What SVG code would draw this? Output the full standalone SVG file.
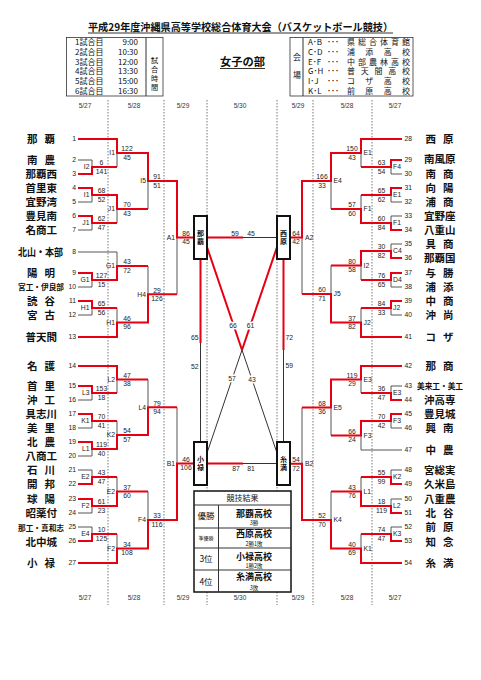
<svg xmlns="http://www.w3.org/2000/svg" width="481" height="680" viewBox="0 0 481 680">
<style>
.r{stroke:#e60012;stroke-width:2;fill:none}
.g{stroke:#555;stroke-width:1;fill:none}
.k{stroke:#333;stroke-width:1;fill:none}
.d{stroke:#555;stroke-width:0.8;stroke-dasharray:1.5,1.5;fill:none}
.sc{font-family:"Liberation Sans",Arial,sans-serif;font-size:6.8px;text-anchor:middle;fill:#222}
.lL{font-family:"Liberation Sans",Arial,sans-serif;font-size:6.8px;text-anchor:end;fill:#222}
.lR{font-family:"Liberation Sans",Arial,sans-serif;font-size:6.8px;text-anchor:start;fill:#222}
.num{font-family:"Liberation Sans",Arial,sans-serif;font-size:6.8px;fill:#222}
.nm{font-family:"Noto Sans CJK JP",sans-serif;font-size:10.5px;font-weight:bold;fill:#111}
.nm2{font-family:"Noto Sans CJK JP",sans-serif;font-size:10.5px;font-weight:bold;fill:#111;letter-spacing:7px}
.nms{font-family:"Noto Sans CJK JP",sans-serif;font-size:7.5px;font-weight:bold;fill:#111}
.jp{font-family:"Noto Sans CJK JP",sans-serif;fill:#111}
.dt{font-family:"Liberation Sans",Arial,sans-serif;font-size:6.5px;text-anchor:middle;fill:#333}
.bx{fill:#fff;stroke:#111;stroke-width:2}
.bt{font-family:"Noto Sans CJK JP",sans-serif;font-size:7px;font-weight:bold;text-anchor:middle;fill:#111}
.cs{font-family:"Liberation Sans",Arial,sans-serif;font-size:6.8px;text-anchor:middle;fill:#222;stroke:#fff;stroke-width:3px;paint-order:stroke}
</style>

<g id="header">
<text class="jp" x="88" y="30.5" font-size="10.5" font-weight="bold" textLength="305" lengthAdjust="spacingAndGlyphs">平成29年度沖縄県高等学校総合体育大会（バスケットボール競技）</text>
<path class="k" d="M88 33H393"/>
<text class="jp" x="220" y="66" font-size="11" font-weight="bold" textLength="45" lengthAdjust="spacingAndGlyphs">女子の部</text>
<path class="k" d="M220 68.5H265"/>
</g>

<g id="schedule">
<rect x="66.5" y="37.5" width="96.5" height="58.5" fill="none" stroke="#333" stroke-width="0.8"/>
<path class="k" d="M146 37.5V96" stroke-width="0.8"/>
<g class="jp" font-size="8">
<text x="75" y="45.3">1試合目</text><text x="138" y="45.3" text-anchor="end">9:00</text>
<text x="75" y="55">2試合目</text><text x="138" y="55" text-anchor="end">10:30</text>
<text x="75" y="64.7">3試合目</text><text x="138" y="64.7" text-anchor="end">12:00</text>
<text x="75" y="74.4">4試合目</text><text x="138" y="74.4" text-anchor="end">13:30</text>
<text x="75" y="84.1">5試合目</text><text x="138" y="84.1" text-anchor="end">15:00</text>
<text x="75" y="93.8">6試合目</text><text x="138" y="93.8" text-anchor="end">16:30</text>
</g>
<g class="jp" font-size="7.2" text-anchor="middle">
<text x="154.5" y="63">試</text>
<text x="154.5" y="72">合</text>
<text x="154.5" y="81">時</text>
<text x="154.5" y="90">間</text>
</g>
</g>

<g id="venues">
<rect x="290" y="37.5" width="123" height="58.5" fill="none" stroke="#333" stroke-width="0.8"/>
<path class="k" d="M303 37.5V96" stroke-width="0.8"/>
<g class="jp" font-size="8">
<text x="297" y="60" text-anchor="middle">会</text>
<text x="297" y="78" text-anchor="middle">場</text>
<text x="308" y="45.3">A･B</text><text x="327" y="45.3">･･･</text><text x="347" y="45.3" textLength="63" lengthAdjust="spacing">県総合体育館</text>
<text x="308" y="55">C･D</text><text x="327" y="55">･･･</text><text x="347" y="55" textLength="63" lengthAdjust="spacing">浦添高校</text>
<text x="308" y="64.7">E･F</text><text x="327" y="64.7">･･･</text><text x="347" y="64.7" textLength="63" lengthAdjust="spacing">中部農林高校</text>
<text x="308" y="74.4">G･H</text><text x="327" y="74.4">･･･</text><text x="347" y="74.4" textLength="63" lengthAdjust="spacing">普天間高校</text>
<text x="308" y="84.1">I･J</text><text x="327" y="84.1">･･･</text><text x="347" y="84.1" textLength="63" lengthAdjust="spacing">コザ高校</text>
<text x="308" y="93.8">K･L</text><text x="327" y="93.8">･･･</text><text x="347" y="93.8" textLength="63" lengthAdjust="spacing">前原高校</text>
</g>
</g>

<g id="dates">
<path class="d" d="M108 100V605M164 100V605M207 100V605M277 100V605M313 100V605M372 100V605"/>
<text class="dt" x="85" y="107.5">5/27</text><text class="dt" x="134" y="107.5">5/28</text><text class="dt" x="183" y="107.5">5/29</text><text class="dt" x="240" y="107.5">5/30</text><text class="dt" x="298" y="107.5">5/29</text><text class="dt" x="347" y="107.5">5/28</text><text class="dt" x="395" y="107.5">5/27</text>
<text class="dt" x="85" y="599.5">5/27</text><text class="dt" x="134" y="599.5">5/28</text><text class="dt" x="183" y="599.5">5/29</text><text class="dt" x="240" y="599.5">5/30</text><text class="dt" x="298" y="599.5">5/29</text><text class="dt" x="347" y="599.5">5/28</text><text class="dt" x="395" y="599.5">5/27</text>
</g>

<g id="connectors">
<path class="g" d="M78 139H117M78 160H92M78 174H92M78 188H92M78 202H92M78 216H92M78 230H92M78 252H117M78 273H92M78 287H92M78 301H92M78 315H92M78 337H117M78 366H117M78 386H92M78 400H92M78 414H92M78 428H92M78 442H92M78 456H92M78 470H92M78 484H92M78 499H92M78 513H92M78 527H92M78 541H92M78 563H117
M92 160V174M92 188V202M92 216V230M92 273V287M92 301V315M92 386V400M92 414V428M92 442V456M92 470V484M92 499V513M92 527V541
M117 139V167M117 195V223M117 252V280M117 308V337M117 366V393M117 421V449M117 477V506M117 534V563
M148 153V209M148 266V322.5M148 379.5V435M148 491.5V548.5
M177 181V294.25M177 407.25V520"/>
<path class="g" d="M402 139H361M402 160H391M402 174H391M402 188H391M402 202H391M402 216H391M402 230H391M402 244H391M402 258H391M402 273H391M402 287H391M402 301H391M402 315H391M402 337H361M402 366H361M402 386H391M402 400H391M402 414H391M402 428H391M402 450H361M402 470H391M402 484H391M402 499H391M402 513H391M402 527H391M402 541H391M402 563H361
M391 160V174M391 188V202M391 216V230M391 244V258M391 273V287M391 301V315M391 386V400M391 414V428M391 470V484M391 499V513M391 527V541
M361 139V167M361 195V223M361 251V280M361 308V337M361 366V393M361 421V450M361 477V506M361 534V563
M331 153V209M331 265.5V322.5M331 379.5V435.5M331 491.5V548.5
M302 181V294M302 407.5V520"/>
<path class="r" d="M78 139H117V153H148V181H177V237.5H194
M78 174H92V167H117
M78 188H92V195H117V209H148
M78 216H92V223H117
M78 273H92V280H117V266H148
M78 301H92V308H117
M78 337H117V322.5H148V294.25H177
M78 366H117V379.5H148
M78 386H92V393H117
M78 414H92V421H117
M78 442H92V449H117V435H148V407.25H177
M78 484H92V477H117
M78 499H92V506H117V491.5H148
M78 541H92V534H117
M78 563H117V548.5H148V520H177V463.5H194"/>
<path class="r" d="M402 139H361V153H331V181H302V237.5H290
M402 160H391V167H361
M402 188H391V195H361
M402 230H391V223H361V209H331
M402 258H391V251H361V265.5H331
M402 273H391V280H361
M402 301H391V308H361
M402 337H361V322.5H331V294H302
M402 366H361V379.5H331V407.5H302
M402 400H391V393H361
M402 414H391V421H361V435.5H331
M402 484H391V477H361
M402 513H391V506H361V491.5H331
M402 541H391V534H361
M402 563H361V548.5H331V520H302V463.75H290"/>
<path class="k" d="M243 237.5H277M243 463.5H277M200.5 343V442M283.5 350V442M242 350L277 453M242 350L207 453"/>
<path class="r" d="M207 237.5H243M207 463.5H243M200.5 259V343M283.5 259V350M207 247L242 350M277 247L242 350"/>
</g>

<g id="scores">
<text class="sc" x="101.5" y="165.4">6</text><text class="sc" x="101.5" y="173.8">141</text><text class="lL" x="89.5" y="169.4">I2</text>
<text class="sc" x="101.5" y="193.4">68</text><text class="sc" x="101.5" y="201.8">52</text><text class="lL" x="89.5" y="197.4">I1</text>
<text class="sc" x="101.5" y="221.4">62</text><text class="sc" x="101.5" y="229.8">47</text><text class="lL" x="89.5" y="225.4">J1</text>
<text class="sc" x="101.5" y="278.4">127</text><text class="sc" x="101.5" y="286.8">15</text><text class="lL" x="89.5" y="282.4">G1</text>
<text class="sc" x="101.5" y="306.4">65</text><text class="sc" x="101.5" y="314.8">56</text><text class="lL" x="89.5" y="310.4">H1</text>
<text class="sc" x="101.5" y="391.4">153</text><text class="sc" x="101.5" y="399.8">18</text><text class="lL" x="89.5" y="395.4">L3</text>
<text class="sc" x="101.5" y="419.4">70</text><text class="sc" x="101.5" y="427.8">41</text><text class="lL" x="89.5" y="423.4">K1</text>
<text class="sc" x="101.5" y="447.4">119</text><text class="sc" x="101.5" y="455.8">40</text><text class="lL" x="89.5" y="451.4">L1</text>
<text class="sc" x="101.5" y="475.4">43</text><text class="sc" x="101.5" y="483.8">47</text><text class="lL" x="89.5" y="479.4">E2</text>
<text class="sc" x="101.5" y="504.4">61</text><text class="sc" x="101.5" y="512.8">23</text><text class="lL" x="89.5" y="508.4">F2</text>
<text class="sc" x="101.5" y="532.4">10</text><text class="sc" x="101.5" y="540.8">125</text><text class="lL" x="89.5" y="536.4">E4</text>

<text class="sc" x="127" y="151.4">122</text><text class="sc" x="127" y="159.8">45</text><text class="lL" x="115" y="155.4">I1</text>
<text class="sc" x="127" y="207.4">70</text><text class="sc" x="127" y="215.8">43</text><text class="lL" x="115" y="211.4">J1</text>
<text class="sc" x="127" y="264.4">43</text><text class="sc" x="127" y="272.8">72</text><text class="lL" x="115" y="268.4">G1</text>
<text class="sc" x="127" y="320.9">46</text><text class="sc" x="127" y="329.3">96</text><text class="lL" x="115" y="324.9">H1</text>
<text class="sc" x="127" y="377.9">47</text><text class="sc" x="127" y="386.3">38</text><text class="lL" x="115" y="381.9">L2</text>
<text class="sc" x="127" y="433.4">54</text><text class="sc" x="127" y="441.8">57</text><text class="lL" x="115" y="437.4">K2</text>
<text class="sc" x="127" y="489.9">37</text><text class="sc" x="127" y="498.3">60</text><text class="lL" x="115" y="493.9">E2</text>
<text class="sc" x="127" y="546.9">34</text><text class="sc" x="127" y="555.3">108</text><text class="lL" x="115" y="550.9">F2</text>

<text class="sc" x="157" y="179.4">91</text><text class="sc" x="157" y="187.8">51</text><text class="lL" x="146" y="183.4">I5</text>
<text class="sc" x="157" y="292.6">29</text><text class="sc" x="157" y="301">126</text><text class="lL" x="146" y="296.6">H4</text>
<text class="sc" x="157" y="405.6">79</text><text class="sc" x="157" y="414">94</text><text class="lL" x="146" y="409.6">L4</text>
<text class="sc" x="157" y="518.4">33</text><text class="sc" x="157" y="526.8">116</text><text class="lL" x="146" y="522.4">F4</text>

<text class="sc" x="186" y="235.9">86</text><text class="sc" x="186" y="244.3">45</text><text class="lL" x="175" y="239.9">A1</text>
<text class="sc" x="186" y="461.9">46</text><text class="sc" x="186" y="470.3">106</text><text class="lL" x="175" y="465.9">B1</text>

<text class="sc" x="381.5" y="165.4">63</text><text class="sc" x="381.5" y="173.8">54</text><text class="lR" x="393" y="169.4">F4</text>
<text class="sc" x="381.5" y="193.4">65</text><text class="sc" x="381.5" y="201.8">62</text><text class="lR" x="393" y="197.4">E1</text>
<text class="sc" x="381.5" y="221.4">60</text><text class="sc" x="381.5" y="229.8">84</text><text class="lR" x="393" y="225.4">F1</text>
<text class="sc" x="381.5" y="249.4">30</text><text class="sc" x="381.5" y="257.8">82</text><text class="lR" x="393" y="253.4">C4</text>
<text class="sc" x="381.5" y="278.4">76</text><text class="sc" x="381.5" y="286.8">65</text><text class="lR" x="393" y="282.4">D4</text>
<text class="sc" x="381.5" y="306.4">84</text><text class="sc" x="381.5" y="314.8">33</text><text class="lR" x="393" y="310.4">J2</text>
<text class="sc" x="381.5" y="391.4">36</text><text class="sc" x="381.5" y="399.8">47</text><text class="lR" x="393" y="395.4">E3</text>
<text class="sc" x="381.5" y="419.4">70</text><text class="sc" x="381.5" y="427.8">42</text><text class="lR" x="393" y="423.4">F3</text>
<text class="sc" x="381.5" y="475.4">55</text><text class="sc" x="381.5" y="483.8">99</text><text class="lR" x="393" y="479.4">K2</text>
<text class="sc" x="381.5" y="504.4">18</text><text class="sc" x="381.5" y="512.8">119</text><text class="lR" x="393" y="508.4">L2</text>
<text class="sc" x="381.5" y="532.4">74</text><text class="sc" x="381.5" y="540.8">47</text><text class="lR" x="393" y="536.4">K3</text>

<text class="sc" x="352" y="151.4">150</text><text class="sc" x="352" y="159.8">43</text><text class="lR" x="363.5" y="155.4">E1</text>
<text class="sc" x="352" y="207.4">57</text><text class="sc" x="352" y="215.8">60</text><text class="lR" x="363.5" y="211.4">F1</text>
<text class="sc" x="352" y="263.9">80</text><text class="sc" x="352" y="272.3">58</text><text class="lR" x="363.5" y="267.9">I2</text>
<text class="sc" x="352" y="320.9">37</text><text class="sc" x="352" y="329.3">82</text><text class="lR" x="363.5" y="324.9">J2</text>
<text class="sc" x="352" y="377.9">119</text><text class="sc" x="352" y="386.3">29</text><text class="lR" x="363.5" y="381.9">E3</text>
<text class="sc" x="352" y="433.9">66</text><text class="sc" x="352" y="442.3">24</text><text class="lR" x="363.5" y="437.9">F3</text>
<text class="sc" x="352" y="489.9">43</text><text class="sc" x="352" y="498.3">76</text><text class="lR" x="363.5" y="493.9">L1</text>
<text class="sc" x="352" y="546.9">40</text><text class="sc" x="352" y="555.3">69</text><text class="lR" x="363.5" y="550.9">K1</text>

<text class="sc" x="322" y="179.4">166</text><text class="sc" x="322" y="187.8">33</text><text class="lR" x="333.5" y="183.4">E4</text>
<text class="sc" x="322" y="292.4">60</text><text class="sc" x="322" y="300.8">71</text><text class="lR" x="333.5" y="296.4">J5</text>
<text class="sc" x="322" y="405.9">68</text><text class="sc" x="322" y="414.3">36</text><text class="lR" x="333.5" y="409.9">E5</text>
<text class="sc" x="322" y="518.4">52</text><text class="sc" x="322" y="526.8">70</text><text class="lR" x="333.5" y="522.4">K4</text>

<text class="sc" x="296" y="235.9">64</text><text class="sc" x="296" y="244.3">42</text><text class="lR" x="305" y="239.9">A2</text>
<text class="sc" x="296" y="462.1">54</text><text class="sc" x="296" y="470.5">72</text><text class="lR" x="305" y="466.1">B2</text>

<text class="sc" x="235" y="235.5">59</text><text class="sc" x="251" y="235.5">45</text>
<text class="sc" x="236" y="470.5">87</text><text class="sc" x="251" y="470.5">81</text>
<text class="lL" x="198.5" y="339.5">65</text><text class="lL" x="198.5" y="368.5">52</text>
<text class="lR" x="285.5" y="339.5">72</text><text class="lR" x="285.5" y="367.5">59</text>
<text class="cs" x="233" y="328.4">66</text><text class="cs" x="250.5" y="328.4">61</text>
<text class="cs" x="232" y="381.4">57</text><text class="cs" x="252" y="382.4">43</text>
</g>

<g id="box-naha"><rect class="bx" x="194" y="216" width="13" height="43"/><text class="bt" x="200.5" y="235.7">那</text><text class="bt" x="200.5" y="244.2">覇</text></g>
<g id="box-nishihara"><rect class="bx" x="277" y="216" width="13" height="43"/><text class="bt" x="283.5" y="235.7">西</text><text class="bt" x="283.5" y="244.2">原</text></g>
<g id="box-oroku"><rect class="bx" x="194" y="442" width="13" height="43"/><text class="bt" x="200.5" y="461.7">小</text><text class="bt" x="200.5" y="470.2">禄</text></g>
<g id="box-itoman"><rect class="bx" x="277" y="442" width="13" height="43"/><text class="bt" x="283.5" y="461.7">糸</text><text class="bt" x="283.5" y="470.2">満</text></g>

<g id="results">
<rect x="194" y="491" width="97" height="101" fill="#fff" stroke="#111" stroke-width="1.5"/>
<path class="k" d="M194 505H291M194 528H291M194 548H291M194 570H291M218.5 505V592"/>
<g class="jp" text-anchor="middle">
<text x="242.5" y="501" font-size="8">競技結果</text>
<text x="206" y="519" font-size="8.5">優勝</text>
<text x="254" y="516.5" font-size="9" font-weight="bold">那覇高校</text>
<text x="254" y="525" font-size="5.5">3勝</text>
<text x="206" y="539.5" font-size="5">準優勝</text>
<text x="254" y="536.5" font-size="9" font-weight="bold">西原高校</text>
<text x="254" y="546" font-size="5.5">2勝1敗</text>
<text x="206" y="562" font-size="8.5">3位</text>
<text x="254" y="559.5" font-size="9" font-weight="bold">小禄高校</text>
<text x="254" y="568" font-size="5.5">1勝2敗</text>
<text x="206" y="585" font-size="8.5">4位</text>
<text x="254" y="580" font-size="9" font-weight="bold">糸満高校</text>
<text x="254" y="589.5" font-size="5.5">3敗</text>
</g>
</g>

<g id="teams-left">
<g id="t1"><text class="nm2" x="27" y="142.8">那覇</text><text class="num" x="76" y="141.4" text-anchor="end">1</text></g>
<g id="t2"><text class="nm2" x="27" y="163.8">南農</text><text class="num" x="76" y="162.4" text-anchor="end">2</text></g>
<g id="t3"><text class="nm" x="25.5" y="177.8">那覇西</text><text class="num" x="76" y="176.4" text-anchor="end">3</text></g>
<g id="t4"><text class="nm" x="25.5" y="191.8">首里東</text><text class="num" x="76" y="190.4" text-anchor="end">4</text></g>
<g id="t5"><text class="nm" x="25.5" y="205.8">宜野湾</text><text class="num" x="76" y="204.4" text-anchor="end">5</text></g>
<g id="t6"><text class="nm" x="25.5" y="219.8">豊見南</text><text class="num" x="76" y="218.4" text-anchor="end">6</text></g>
<g id="t7"><text class="nm" x="25.5" y="234.3">名商工</text><text class="num" x="76" y="232.4" text-anchor="end">7</text></g>
<g id="t8"><text class="nm" x="18" y="255.8" font-size="10" textLength="45" lengthAdjust="spacingAndGlyphs">北山・本部</text><text class="num" x="76" y="254.4" text-anchor="end">8</text></g>
<g id="t9"><text class="nm2" x="27" y="276.8">陽明</text><text class="num" x="76" y="275.4" text-anchor="end">9</text></g>
<g id="t10"><text class="nms" x="18" y="289.8" textLength="46" lengthAdjust="spacingAndGlyphs">宮工・伊良部</text><text class="num" x="76" y="289.4" text-anchor="end">10</text></g>
<g id="t11"><text class="nm2" x="27" y="305.3">読谷</text><text class="num" x="76" y="303.4" text-anchor="end">11</text></g>
<g id="t12"><text class="nm2" x="27" y="318.8">宮古</text><text class="num" x="76" y="317.4" text-anchor="end">12</text></g>
<g id="t13"><text class="nm" x="25.5" y="340.8">普天間</text><text class="num" x="76" y="339.4" text-anchor="end">13</text></g>
<g id="t14"><text class="nm2" x="27" y="369.8">名護</text><text class="num" x="76" y="368.4" text-anchor="end">14</text></g>
<g id="t15"><text class="nm2" x="27" y="389.8">首里</text><text class="num" x="76" y="388.4" text-anchor="end">15</text></g>
<g id="t16"><text class="nm2" x="27" y="404.3">沖工</text><text class="num" x="76" y="402.4" text-anchor="end">16</text></g>
<g id="t17"><text class="nm" x="25.5" y="417.8">具志川</text><text class="num" x="76" y="416.4" text-anchor="end">17</text></g>
<g id="t18"><text class="nm2" x="27" y="432.3">美里</text><text class="num" x="76" y="430.4" text-anchor="end">18</text></g>
<g id="t19"><text class="nm2" x="27" y="445.8">北農</text><text class="num" x="76" y="444.4" text-anchor="end">19</text></g>
<g id="t20"><text class="nm" x="25.5" y="460.3">八商工</text><text class="num" x="76" y="458.4" text-anchor="end">20</text></g>
<g id="t21"><text class="nm2" x="27" y="473.8">石川</text><text class="num" x="76" y="472.4" text-anchor="end">21</text></g>
<g id="t22"><text class="nm2" x="27" y="488.3">開邦</text><text class="num" x="76" y="486.4" text-anchor="end">22</text></g>
<g id="t23"><text class="nm2" x="27" y="502.8">球陽</text><text class="num" x="76" y="501.4" text-anchor="end">23</text></g>
<g id="t24"><text class="nm" x="25.5" y="516.8">昭薬付</text><text class="num" x="76" y="515.4" text-anchor="end">24</text></g>
<g id="t25"><text class="nms" x="18" y="530.8" textLength="46" lengthAdjust="spacingAndGlyphs">那工・真和志</text><text class="num" x="76" y="529.4" text-anchor="end">25</text></g>
<g id="t26"><text class="nm" x="25.5" y="545.8">北中城</text><text class="num" x="76" y="543.4" text-anchor="end">26</text></g>
<g id="t27"><text class="nm2" x="27" y="566.8">小禄</text><text class="num" x="76" y="565.4" text-anchor="end">27</text></g>
</g>

<g id="teams-right">
<g id="t28"><text class="nm2" x="425.5" y="142.8">西原</text><text class="num" x="404.5" y="141.4">28</text></g>
<g id="t29"><text class="nm" x="424" y="162.8">南風原</text><text class="num" x="404.5" y="162.4">29</text></g>
<g id="t30"><text class="nm2" x="425.5" y="177.8">南商</text><text class="num" x="404.5" y="176.4">30</text></g>
<g id="t31"><text class="nm2" x="425.5" y="191.8">向陽</text><text class="num" x="404.5" y="190.4">31</text></g>
<g id="t32"><text class="nm2" x="425.5" y="205.8">浦商</text><text class="num" x="404.5" y="204.4">32</text></g>
<g id="t33"><text class="nm" x="424" y="219.8">宜野座</text><text class="num" x="404.5" y="218.4">33</text></g>
<g id="t34"><text class="nm" x="424" y="234.3">八重山</text><text class="num" x="404.5" y="232.4">34</text></g>
<g id="t35"><text class="nm2" x="425.5" y="247.8">具商</text><text class="num" x="404.5" y="246.4">35</text></g>
<g id="t36"><text class="nm" x="424" y="261.8">那覇国</text><text class="num" x="404.5" y="260.4">36</text></g>
<g id="t37"><text class="nm2" x="425.5" y="276.8">与勝</text><text class="num" x="404.5" y="275.4">37</text></g>
<g id="t38"><text class="nm2" x="425.5" y="290.8">浦添</text><text class="num" x="404.5" y="289.4">38</text></g>
<g id="t39"><text class="nm2" x="425.5" y="305.3">中商</text><text class="num" x="404.5" y="303.4">39</text></g>
<g id="t40"><text class="nm2" x="425.5" y="318.8">沖尚</text><text class="num" x="404.5" y="317.4">40</text></g>
<g id="t41"><text class="nm2" x="425.5" y="340.8">コザ</text><text class="num" x="404.5" y="339.4">41</text></g>
<g id="t42"><text class="nm2" x="425.5" y="369.8">那商</text><text class="num" x="404.5" y="368.4">42</text></g>
<g id="t43"><text class="nms" x="417" y="388.8" textLength="46" lengthAdjust="spacingAndGlyphs">美来工・美工</text><text class="num" x="404.5" y="388.4">43</text></g>
<g id="t44"><text class="nm" x="424" y="404.3">沖高専</text><text class="num" x="404.5" y="402.4">44</text></g>
<g id="t45"><text class="nm" x="424" y="417.8">豊見城</text><text class="num" x="404.5" y="416.4">45</text></g>
<g id="t46"><text class="nm2" x="425.5" y="432.3">興南</text><text class="num" x="404.5" y="430.4">46</text></g>
<g id="t47"><text class="nm2" x="425.5" y="453.8">中農</text><text class="num" x="404.5" y="452.4">47</text></g>
<g id="t48"><text class="nm" x="424" y="473.8">宮総実</text><text class="num" x="404.5" y="472.4">48</text></g>
<g id="t49"><text class="nm" x="424" y="488.3">久米島</text><text class="num" x="404.5" y="486.4">49</text></g>
<g id="t50"><text class="nm" x="424" y="502.8">八重農</text><text class="num" x="404.5" y="501.4">50</text></g>
<g id="t51"><text class="nm2" x="425.5" y="516.8">北谷</text><text class="num" x="404.5" y="515.4">51</text></g>
<g id="t52"><text class="nm2" x="425.5" y="531.3">前原</text><text class="num" x="404.5" y="529.4">52</text></g>
<g id="t53"><text class="nm2" x="425.5" y="545.8">知念</text><text class="num" x="404.5" y="543.4">53</text></g>
<g id="t54"><text class="nm2" x="425.5" y="566.8">糸満</text><text class="num" x="404.5" y="565.4">54</text></g>
</g>
</svg>
